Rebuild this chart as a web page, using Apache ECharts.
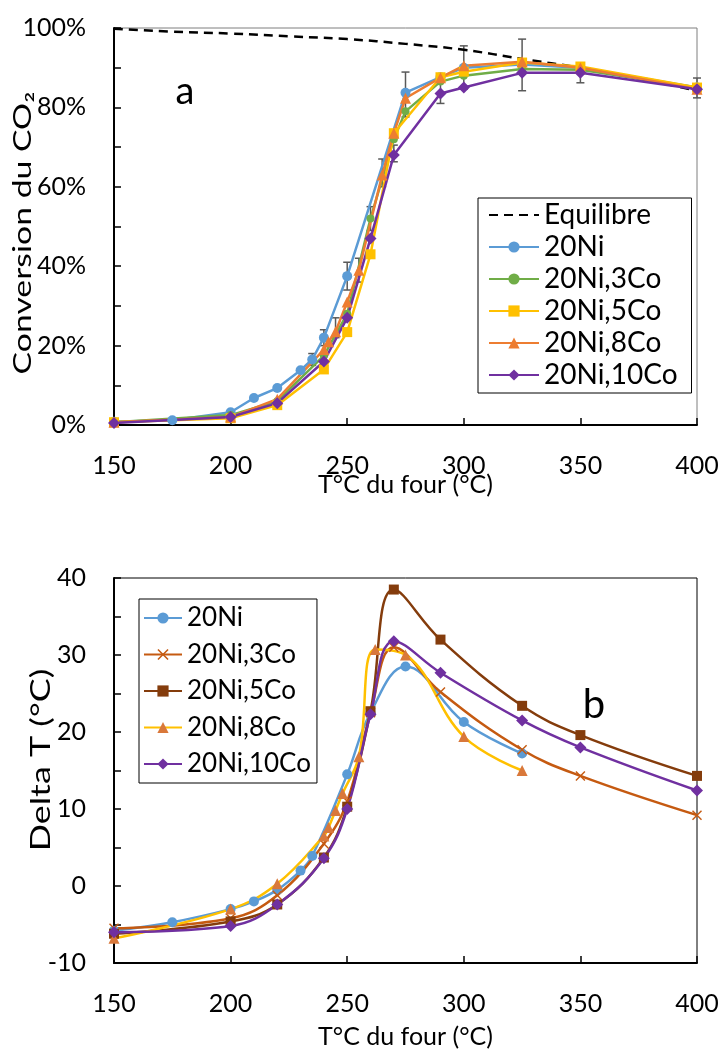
<!DOCTYPE html>
<html><head><meta charset="utf-8">
<script src="https://cdn.jsdelivr.net/npm/echarts/dist/echarts.min.js"></script>
<style>html,body{margin:0;padding:0;background:#fff}#c{width:724px;height:1050px}</style>
</head><body><div id="c"></div>
<script>
// ---------- Data: chart a (conversion, %) ----------
const eqT = [150,175,200,225,250,275,300,325,350,375,400];
const eqConv = [99.8,99.1,98.6,97.9,97.2,96,94.5,92.2,90,87.3,84.2];
const conv20Ni = [[150,0.8],[175,1.2],[200,3.2],[210,6.8],[220,9.3],[230,13.8],[235,16.5],[240,22],[250,37.5],[275,83.7],[290,87.6],[300,90],[325,90.8],[350,90],[400,85]];
const conv3Co = [[150,0.7],[200,2.5],[220,6],[240,17.5],[250,28],[260,52],[270,72],[275,79],[290,86.5],[300,88],[325,89.7],[350,89.5],[400,85]];
const conv5Co = [[150,0.7],[200,1.7],[220,5],[240,14],[250,23.4],[260,43],[270,73.5],[290,87.6],[300,89],[325,91.3],[350,90.3],[400,85]];
const conv8Co = [[150,0.7],[200,2],[220,6.5],[240,19],[242,21],[245,23.5],[250,31],[255,39],[265,63],[270,73.5],[275,82.3],[290,87.5],[300,90.5],[325,91.5],[350,90],[400,84.6]];
const conv10Co = [[150,0.5],[200,2],[220,5.5],[240,16],[250,27],[260,47],[270,68],[290,83.5],[300,85],[325,88.7],[350,88.7],[400,84.6]];
const errT  = [235,240,245,250,255,260,265,270,275,290,300,325,350,400];
const errLo = [15,20,22,34,36,49,60,66.3,77.6,81,84.6,84.2,86.2,82.4];
const errHi = [18,24,27,41,42,55,67,70.5,88.9,87.6,95.5,97.2,90.7,87.4];
// ---------- Data: chart b (Delta T, °C) ----------
const dT20Ni = [[150,-5.8],[175,-4.7],[200,-3],[210,-2],[220,-0.5],[230,2],[235,3.9],[250,14.5],[260,22.5],[275,28.5],[300,21.3],[325,17.2]];
const dT3Co = [[150,-5.5],[200,-4.2],[220,-1.2],[240,5.5],[250,11],[260,22.5],[270,31],[290,25.2],[325,17.7],[350,14.3],[400,9.2]];
const dT5Co = [[150,-6.2],[200,-4.6],[220,-2.4],[240,3.7],[250,10.3],[260,22.7],[270,38.5],[290,32],[325,23.4],[350,19.6],[400,14.3]];
const dT8Co = [[150,-6.8],[200,-3],[220,0.3],[240,6.5],[242,7.6],[245,9.8],[248,12],[255,16.8],[262,30.7],[275,30],[300,19.4],[325,15]];
const dT10Co = [[150,-6],[200,-5.2],[220,-2.4],[240,3.6],[250,10],[260,22.3],[270,31.8],[290,27.7],[325,21.5],[350,18],[400,12.4]];
const namesA = ['Equilibre','20Ni','20Ni,3Co','20Ni,5Co','20Ni,8Co','20Ni,10Co'];
const namesB = ['20Ni','20Ni,3Co','20Ni,5Co','20Ni,8Co','20Ni,10Co'];
const titleX = 'T°C du four (°C)';
const titleYa = 'Conversion du CO₂';
const titleYb = 'Delta T (°C)';

const FF = 'Lato';
const chart = echarts.init(document.getElementById('c'));
const cross = 'path://M0,1L1,0L5,4L9,0L10,1L6,5L10,9L9,10L5,6L1,10L0,9L4,5Z';

function xAxisDef(gi, gap){
  return {gridIndex: gi, type:'value', min:150, max:400, interval:50,
    axisLine:{onZero:false, lineStyle:{color:'#000', width:2}},
    axisTick:{inside:true, length:7, lineStyle:{color:'#000', width:1.5}},
    axisLabel:{margin:28, fontSize:25, color:'#000', fontFamily:FF},
    splitLine:{show:false},
    name:titleX, nameLocation:'middle', nameGap:gap, nameMoveOverlap:false,
    nameTextStyle:{fontSize:25, color:'#000', fontFamily:FF}};
}
function lineA(name, data, color, symbol, size){
  return {name, type:'line', xAxisIndex:0, yAxisIndex:0, data, symbol, symbolSize:size,
    lineStyle:{color, width:2.5}, itemStyle:{color}, z:3};
}
function lineB(name, data, color, mcolor, symbol, size){
  return {name:'b'+name, type:'line', xAxisIndex:1, yAxisIndex:1, data, symbol, symbolSize:size, smooth:0.4,
    lineStyle:{color, width:2.5}, itemStyle:{color:mcolor}, z:3};
}

chart.setOption({
  animation:false,
  backgroundColor:'#fff',
  grid:[
    {left:114, top:28, width:583, height:397, show:true, borderColor:'#7f7f7f', borderWidth:1},
    {left:114, top:578, width:583, height:404, show:true, borderColor:'#000', borderWidth:1}
  ],
  xAxis:[xAxisDef(0,47), xAxisDef(1,61)],
  yAxis:[
    {gridIndex:0, type:'value', min:0, max:100, interval:10,
     axisLine:{show:true, lineStyle:{color:'#000', width:2}},
     axisTick:{inside:true, length:7, lineStyle:{color:'#000', width:1.5}},
     axisLabel:{margin:28, fontSize:25, color:'#000', fontFamily:FF, formatter:v => v % 20 === 0 ? v + '%' : ''},
     splitLine:{show:false}},
    {gridIndex:1, type:'value', min:-10, max:40, interval:5,
     axisLine:{show:true, onZero:false, lineStyle:{color:'#000', width:2}},
     axisTick:{inside:true, length:7, lineStyle:{color:'#000', width:1.5}},
     axisLabel:{margin:28, fontSize:25, color:'#000', fontFamily:FF, formatter:v => v % 10 === 0 ? String(v) : ''},
     splitLine:{show:false}}
  ],
  legend:[
    {data:namesA.map(n => n === 'Equilibre' ? {name:n, itemStyle:{opacity:0}} : n),
     orient:'vertical', left:478, top:198, itemWidth:50, itemHeight:14, itemGap:4,
     padding:[3,14,4,10], borderColor:'#000', borderWidth:1, backgroundColor:'#fff',
     textStyle:{fontSize:28, color:'#000', fontFamily:FF}},
    {data:namesB.map(n => 'b'+n), orient:'vertical', left:139, top:599, itemWidth:38, itemHeight:14, itemGap:10.5,
     padding:[6,6,6,4], borderColor:'#000', borderWidth:1, backgroundColor:'#fff',
     formatter:n => n.slice(1),
     textStyle:{fontSize:26, color:'#000', fontFamily:FF}}
  ],
  graphic:[
    {type:'text', x:185, y:92, style:{text:'a', fontSize:38, fill:'#000', fontFamily:FF, align:'center', verticalAlign:'middle'}},
    {type:'text', x:594, y:705, style:{text:'b', fontSize:40, fill:'#000', fontFamily:FF, align:'center', verticalAlign:'middle'}},
    {type:'text', x:23, y:233, rotation:Math.PI/2, scaleX:1.35,
     style:{text:titleYa, fontSize:25, fill:'#000', fontFamily:FF, align:'center', verticalAlign:'middle'}},
    {type:'text', x:42, y:760, rotation:Math.PI/2, scaleX:1.38,
     style:{text:titleYb, fontSize:26, fill:'#000', fontFamily:FF, align:'center', verticalAlign:'middle'}}
  ],
  series:[
    {name:'Equilibre', type:'line', xAxisIndex:0, yAxisIndex:0, smooth:true, symbol:'none',
     data:eqT.map((t,i)=>[t,eqConv[i]]), lineStyle:{color:'#000', width:2.5, type:[9,6]}, itemStyle:{color:'#000'}, z:2},
    {type:'custom', xAxisIndex:0, yAxisIndex:0, z:2,
     data:errT.map((t,i)=>[t, errLo[i], errHi[i]]),
     encode:{x:0, y:[1,2]},
     renderItem:(params, api) => {
       const x = api.value(0);
       const lo = api.coord([x, api.value(1)]);
       const hi = api.coord([x, api.value(2)]);
       const w = 4;
       const st = {stroke:'#595959', lineWidth:1.5};
       return {type:'group', children:[
         {type:'line', shape:{x1:lo[0], y1:lo[1], x2:hi[0], y2:hi[1]}, style:st},
         {type:'line', shape:{x1:lo[0]-w, y1:lo[1], x2:lo[0]+w, y2:lo[1]}, style:st},
         {type:'line', shape:{x1:hi[0]-w, y1:hi[1], x2:hi[0]+w, y2:hi[1]}, style:st}
       ]};
     }},
    lineA('20Ni', conv20Ni, '#5B9BD5', 'circle', 10),
    lineA('20Ni,3Co', conv3Co, '#70AD47', 'circle', 8),
    lineA('20Ni,5Co', conv5Co, '#FFC000', 'rect', 10),
    lineA('20Ni,8Co', conv8Co, '#ED7D31', 'triangle', 11),
    lineA('20Ni,10Co', conv10Co, '#7030A0', 'diamond', 12),
    lineB('20Ni', dT20Ni, '#5B9BD5', '#5B9BD5', 'circle', 10),
    lineB('20Ni,3Co', dT3Co, '#C55A11', '#C55A11', cross, 10),
    lineB('20Ni,5Co', dT5Co, '#843C0C', '#843C0C', 'rect', 10),
    lineB('20Ni,8Co', dT8Co, '#FFC000', '#D9783A', 'triangle', 11),
    lineB('20Ni,10Co', dT10Co, '#7030A0', '#7030A0', 'diamond', 12)
  ]
});
</script></body></html>
